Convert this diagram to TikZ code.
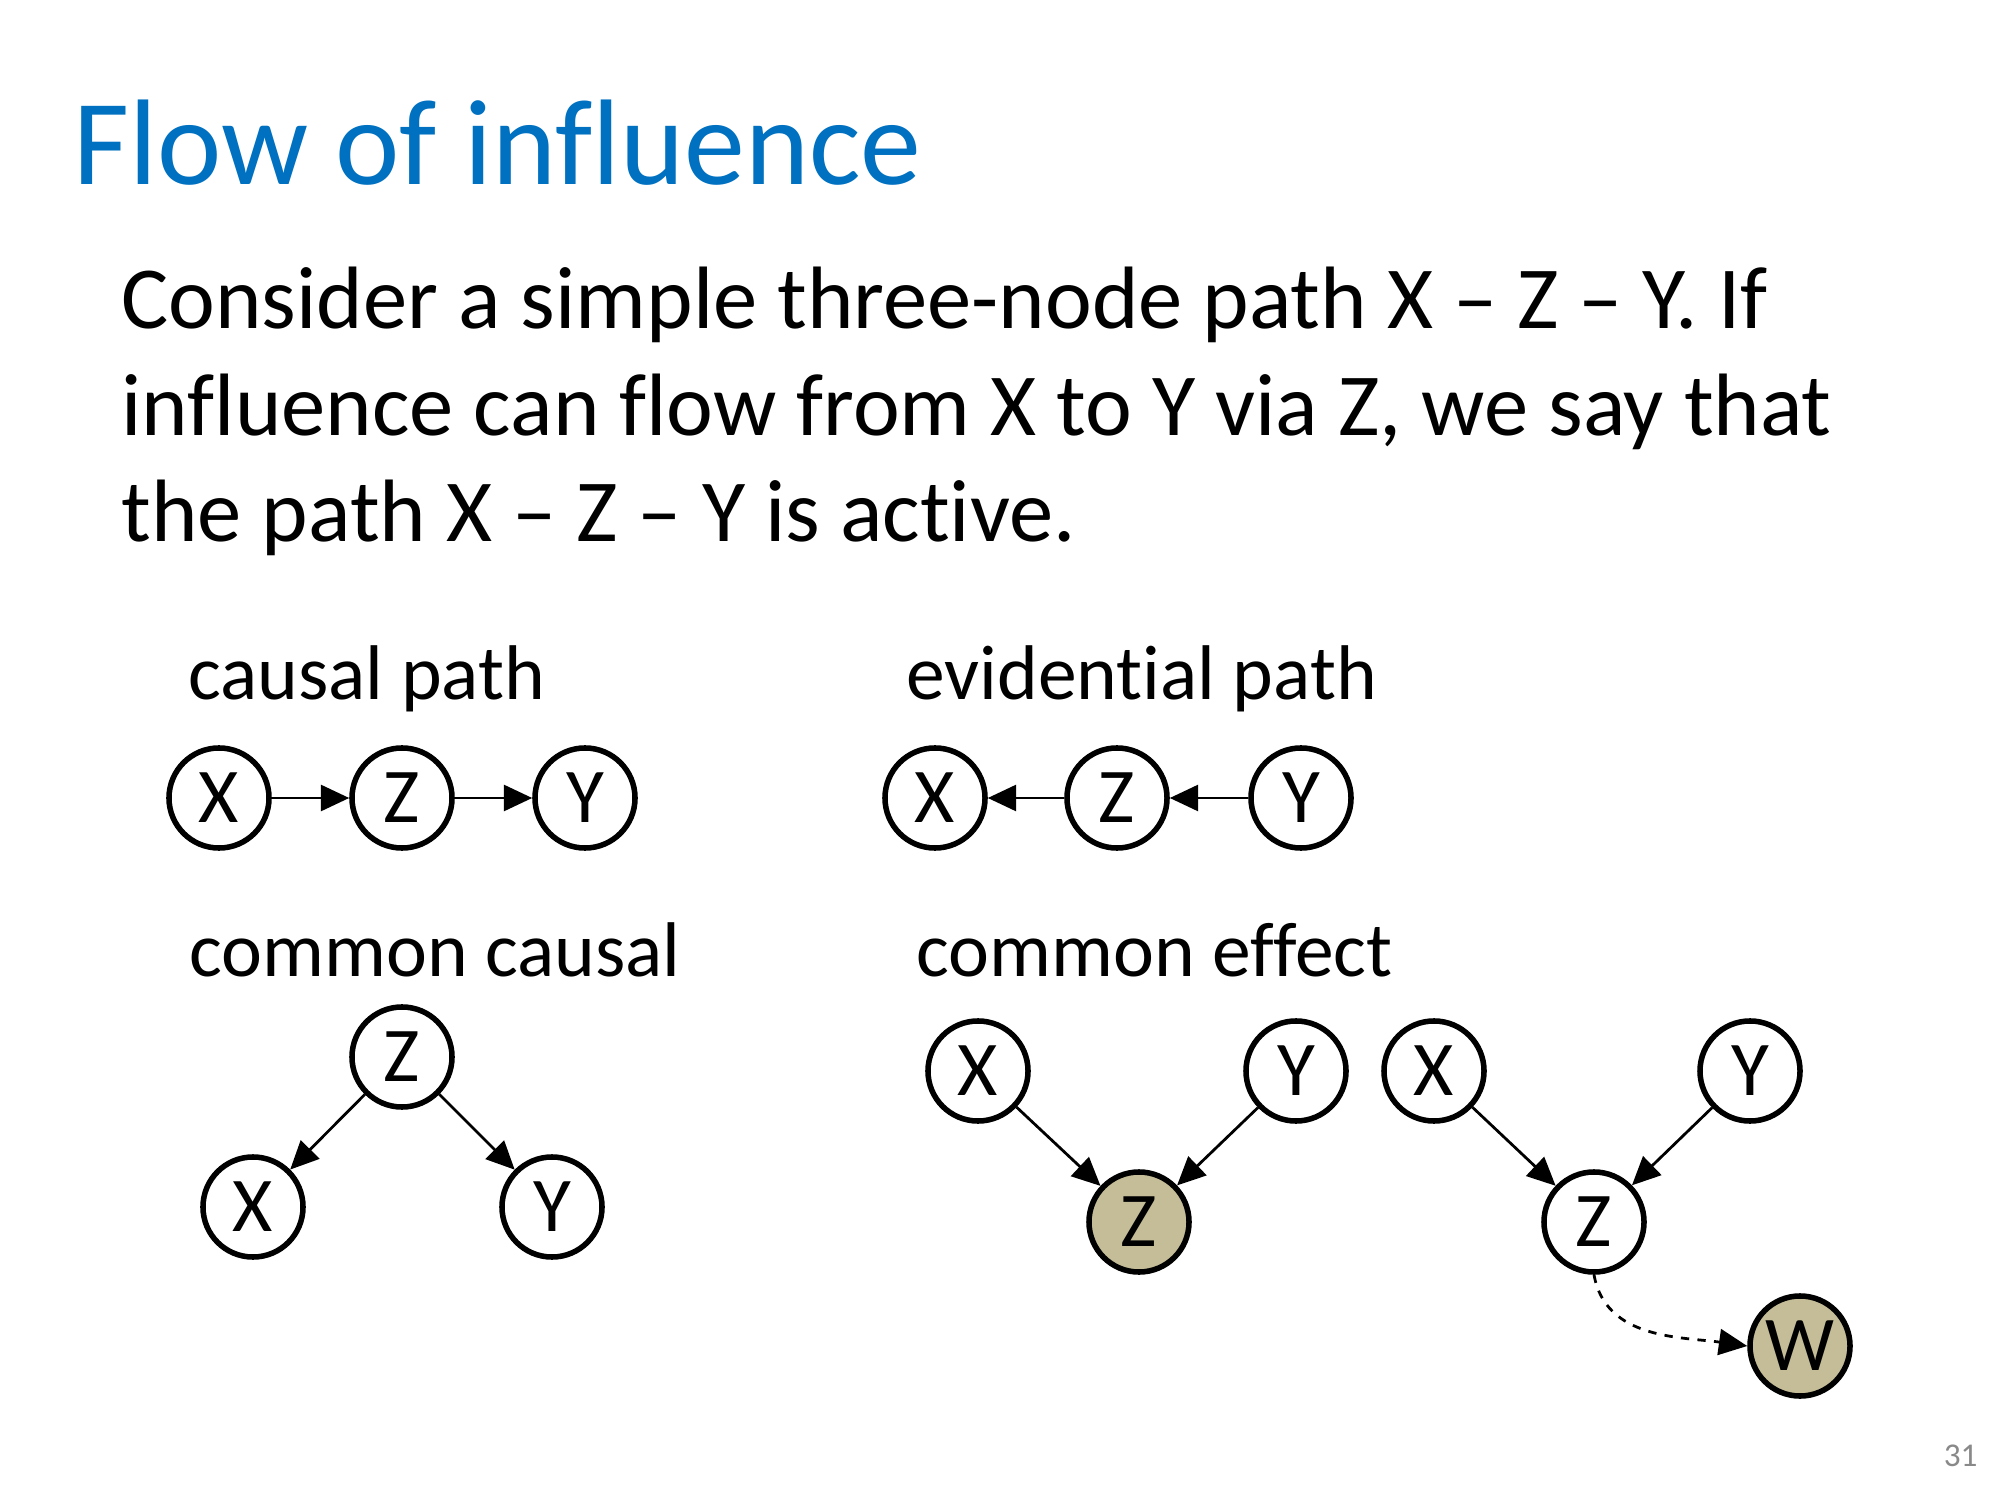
\documentclass[tikz,border=0pt]{standalone}
\usepackage{fontspec}
\setmainfont{Carlito}[Ligatures={TeX,NoCommon}]
\usetikzlibrary{arrows.meta}
\definecolor{titleblue}{RGB}{0,112,192}
\definecolor{observed}{RGB}{196,189,151}
\definecolor{pagegray}{RGB}{137,137,137}
\tikzset{
    var/.style={draw, circle, line width=2pt, minimum size=1.27cm, inner sep=0pt, font=\fontsize{28}{30}\selectfont},
    obs/.style={var, fill=observed},
    edge/.style={line width=1pt, -{Triangle[length=3.6mm,width=3.3mm]}},
    label/.style={anchor=base west, inner sep=0pt, font=\fontsize{28}{34}\selectfont}
}
\begin{document}
\begin{tikzpicture}[x=0.0127cm, y=-0.0127cm]
                \useasboundingbox (0,0) rectangle (2000,1500);
                % title and text
                \node[anchor=base west, inner sep=0pt, text=titleblue, font=\fontsize{44}{53}\selectfont] (title) at (73,185) {Flow of influence};
                \node[anchor=base west, inner sep=0pt, font=\fontsize{32}{38}\selectfont] (line1) at (121,329) {Consider a simple three-node path X -- Z -- Y. If};
                \node[anchor=base west, inner sep=0pt, font=\fontsize{32}{38}\selectfont] (line2) at (121,436) {influence can flow from X to Y via Z, we say that};
                \node[anchor=base west, inner sep=0pt, font=\fontsize{32}{38}\selectfont] (line3) at (121,542) {the path X -- Z -- Y is active.};
                % causal path
                \node[label] (causal) at (188,700) {causal path};
                \node[var] (cx) at (219,798) {X};
                \node[var] (cz) at (402,798) {Z};
                \node[var] (cy) at (585,798) {Y};
                \draw[edge] (cx) -- (cz);
                \draw[edge] (cz) -- (cy);
                % evidential path
                \node[label] (evid) at (906,700) {evidential path};
                \node[var] (ex) at (935,798) {X};
                \node[var] (ez) at (1117,798) {Z};
                \node[var] (ey) at (1301,798) {Y};
                \draw[edge] (ez) -- (ex);
                \draw[edge] (ey) -- (ez);
                % common causal
                \node[label] (ccause) at (189,976) {common causal};
                \node[var] (kz) at (402,1057) {Z};
                \node[var] (kx) at (253,1207) {X};
                \node[var] (ky) at (552,1207) {Y};
                \draw[edge] (kz) -- (kx);
                \draw[edge] (kz) -- (ky);
                % common effect
                \node[label] (ceffect) at (916,976) {common effect};
                \node[var] (fx) at (978,1071) {X};
                \node[var] (fy) at (1296,1071) {Y};
                \node[obs] (fz) at (1139,1222) {Z};
                \draw[edge] (fx) -- (fz);
                \draw[edge] (fy) -- (fz);
                \node[var] (gx) at (1434,1071) {X};
                \node[var] (gy) at (1750,1071) {Y};
                \node[var] (gz) at (1594,1222) {Z};
                \node[obs] (gw) at (1800,1346) {W};
                \draw[edge] (gx) -- (gz);
                \draw[edge] (gy) -- (gz);
                \draw[edge, dashed] (gz.south) to[out=-80, in=172] (gw.west);
                % page number
                \node[anchor=base east, inner sep=0pt, text=pagegray, font=\fontsize{12}{14}\selectfont] (page) at (1978,1466) {31};
            \end{tikzpicture}
\end{document}
